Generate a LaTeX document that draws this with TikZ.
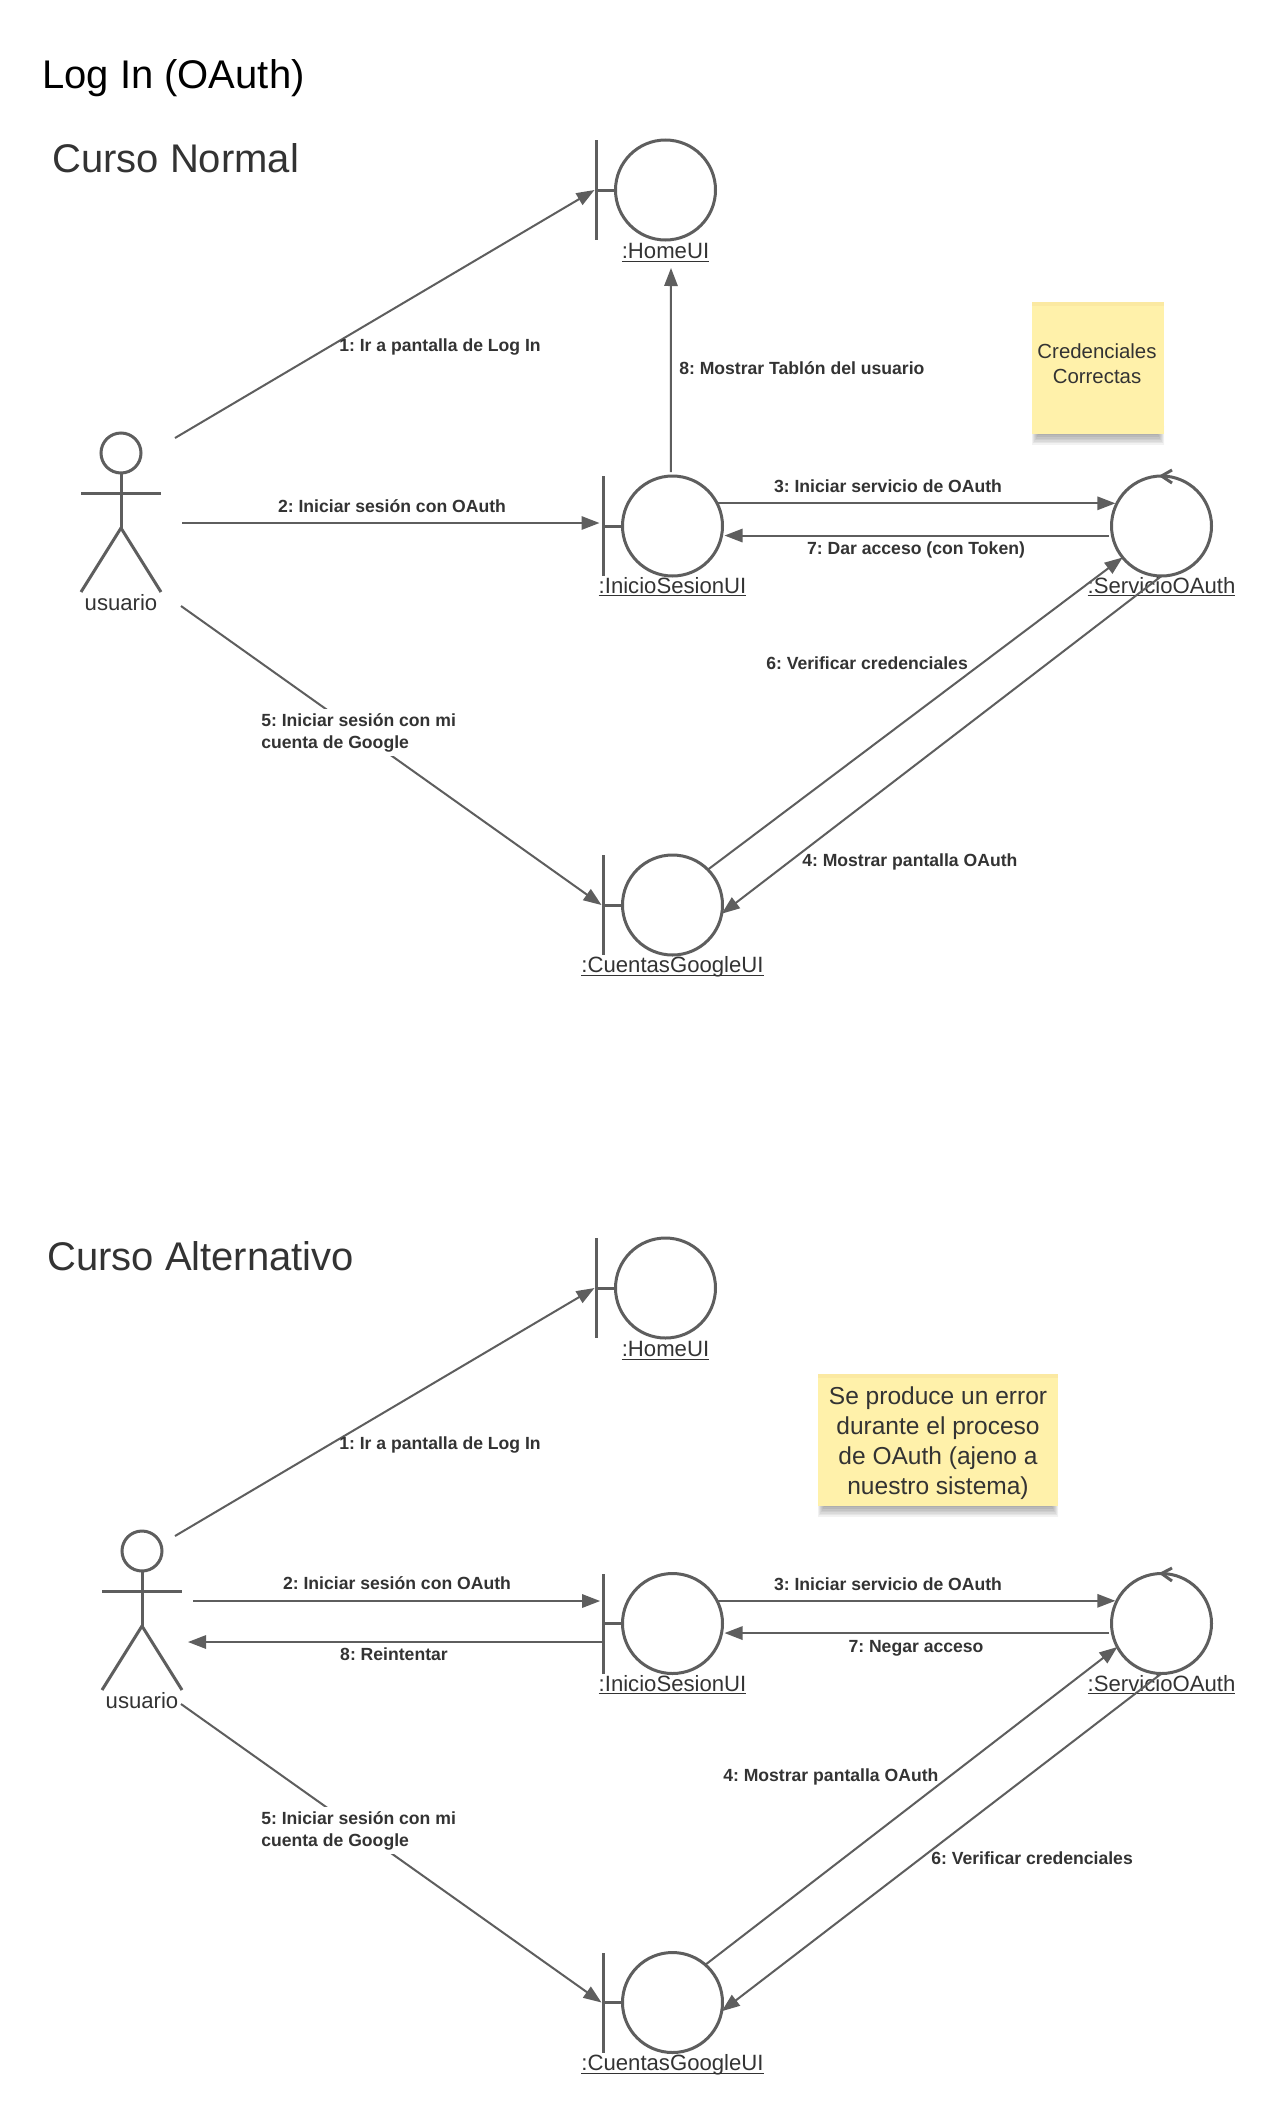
\documentclass[tikz,border=0pt]{standalone}
\usepackage{fontspec}
\setmainfont{Liberation Sans}
\usetikzlibrary{arrows.meta}
\definecolor{ink}{HTML}{5E5E5E}
\definecolor{txt}{HTML}{333333}
\definecolor{sticky}{HTML}{FFF1AA}
\definecolor{stickytop}{HTML}{FBE9A2}
\definecolor{shade}{HTML}{3A3F4A}
\newcommand{\ulbl}[1]{\setbox0\hbox{#1}\rlap{\rule[-2.6pt]{\wd0}{1.1pt}}\box0}
\frenchspacing
\tikzset{
  x=0.75pt,y=-0.75pt,
  ball/.style={circle,draw=ink,line width=2.25pt,fill=white,minimum size=75pt,inner sep=0pt,outer sep=0pt},
  bar/.style={rectangle,fill=ink,draw=none,minimum width=2.25pt,minimum height=75pt,inner sep=0pt,outer sep=0pt},
  objname/.style={anchor=base,inner sep=0pt,text=txt,font=\fontsize{16.6}{20}\selectfont},
  msg/.style={anchor=base,inner sep=0pt,text=txt,font=\fontsize{13.2}{16.5}\selectfont\bfseries},
  stem/.style={draw=ink,line width=2.25pt},
  conn/.style={draw=ink,line width=1.5pt,-{Triangle[length=13.5pt,width=10pt]}},
  actorline/.style={draw=ink,line width=2.25pt},
  head/.style={circle,draw=ink,line width=2.25pt,minimum size=30pt,inner sep=0pt,outer sep=0pt},
  note/.style={rectangle,inner sep=0pt,outer sep=0pt,text=txt,align=center},
  heading/.style={anchor=base west,inner sep=0pt,font=\fontsize{30}{36}\selectfont},
}
\begin{document}
\begin{tikzpicture}
\useasboundingbox (0,0) rectangle (1281,2127);
\fill[white] (0,0) rectangle (1281,2127);

% headings
\node[heading,text=black] (title) at (42,88) {Log In (OAuth)};
\node[heading,text=txt] (normal) at (52,172) {Curso Normal};
\node[heading,text=txt] (alt) at (47,1270) {Curso Alternativo};

% sticky notes: soft shadow, then paper
\foreach \i in {0,1,...,9}{
  \fill[shade,opacity=0.05] (1032+\i*1.0,426) rectangle (1164-\i*1.0,445-\i*1.6);
  \fill[shade,opacity=0.05] (818+\i*1.0,1498) rectangle (1058-\i*1.0,1517-\i*1.6);
}
\node[note,fill=sticky,minimum width=99pt,minimum height=99pt] (n1) at (1098,368) {};
\node[note,fill=sticky,minimum width=180pt,minimum height=99pt] (n2) at (938,1440) {};
\fill[stickytop] (1032,302) rectangle (1164,306);
\fill[stickytop] (818,1374) rectangle (1058,1378);
\node[note,anchor=base,font=\fontsize{15.3}{18.4}\selectfont] (n1t) at (1097,383) {Credenciales\\Correctas};
\node[note,anchor=base,font=\fontsize{18.4}{22.3}\selectfont] (n2t) at (938,1494) {Se produce un error\\durante el proceso\\de OAuth (ajeno a\\nuestro sistema)};

% ---------- Curso Normal objects
\node[ball] (home) at (665.5,190) {};
\node[bar] (homebar) at (596,190) {};
\draw[stem] (homebar.center) -- (home.west);
\node[objname] (homelbl) at (665.5,258.5) {\ulbl{:HomeUI}};

\node[ball] (inicio) at (672.5,526) {};
\node[bar] (iniciobar) at (603,526) {};
\draw[stem] (iniciobar.center) -- (inicio.west);
\node[objname] (iniciolbl) at (672.5,593) {\ulbl{:InicioSesionUI}};

\node[ball] (serv) at (1161.5,526) {};
\draw[actorline] (1172,470) -- (serv.north) -- (1172,483);
\node[objname] (servlbl) at (1161.5,593) {\ulbl{:ServicioOAuth}};

\node[ball] (goog) at (672.5,905) {};
\node[bar] (googbar) at (603,905) {};
\draw[stem] (googbar.center) -- (goog.west);
\node[objname] (googlbl) at (672.5,972.5) {\ulbl{:CuentasGoogleUI}};

% actor
\node[head] (act) at (121,453) {};
\coordinate (acthip) at (121,528);
\draw[actorline] (act.south) -- (acthip);
\draw[actorline] (81,493) -- (161,493);
\draw[actorline] (81,592) -- (acthip) -- (161,592);
\node[objname] (actlbl) at (121,610) {usuario};

% connector free ends
\coordinate (a1s) at (175,438);
\coordinate (a2s) at (182,523);
\coordinate (a5s) at (181,606);
\coordinate (a8e) at (671,268);

% connectors
\draw[conn] (a1s) -- (homebar.west);
\draw[conn,shorten >=1.5pt] (a2s) -- (a2s -| iniciobar.west);
\draw[conn,shorten <=3pt] (inicio.92) -- (a8e);
\draw[conn,shorten >=1.5pt] (inicio.27.4) -- (inicio.27.4 -| serv.152.6);
\draw[conn,shorten <=2.5pt,shorten >=1.5pt] (serv.191.5) -- (serv.191.5 -| inicio.east);
\draw[conn] (goog.45) -- (serv.219);
\draw[conn] (serv.south) -- (goog.-10);
\draw[conn] (a5s) -- (googbar.west);

% messages
\node[msg] (m1) at (440,351) {1: Ir a pantalla de Log In};
\node[msg] (m2) at (392,512) {2: Iniciar sesión con OAuth};
\node[msg,anchor=base west] (m8) at (679,374) {8: Mostrar Tablón del usuario};
\node[msg] (m3) at (888,492) {3: Iniciar servicio de OAuth};
\node[msg] (m7) at (916,554) {7: Dar acceso (con Token)};
\node[msg,anchor=base west] (m6) at (766,669) {6: Verificar credenciales};
\node[msg,anchor=base west] (m4) at (802,866) {4: Mostrar pantalla OAuth};
\node[msg,anchor=base west,align=left,fill=white,inner sep=3pt] (m5) at (257,748) {5: Iniciar sesión con mi\\cuenta de Google};

% ---------- Curso Alternativo objects
\node[ball] (homeB) at (665.5,1288) {};
\node[bar] (homebarB) at (596,1288) {};
\draw[stem] (homebarB.center) -- (homeB.west);
\node[objname] (homelblB) at (665.5,1356.5) {\ulbl{:HomeUI}};

\node[ball] (inicioB) at (672.5,1623.5) {};
\node[bar] (iniciobarB) at (603,1623.5) {};
\draw[stem] (iniciobarB.center) -- (inicioB.west);
\node[objname] (iniciolblB) at (672.5,1691) {\ulbl{:InicioSesionUI}};

\node[ball] (servB) at (1161.5,1623.5) {};
\draw[actorline] (1172,1568) -- (servB.north) -- (1172,1581);
\node[objname] (servlblB) at (1161.5,1691) {\ulbl{:ServicioOAuth}};

\node[ball] (googB) at (672.5,2002.5) {};
\node[bar] (googbarB) at (603,2002.5) {};
\draw[stem] (googbarB.center) -- (googB.west);
\node[objname] (googlblB) at (672.5,2070.5) {\ulbl{:CuentasGoogleUI}};

% actor
\node[head] (actB) at (142,1551) {};
\coordinate (acthipB) at (142,1626);
\draw[actorline] (actB.south) -- (acthipB);
\draw[actorline] (102,1591) -- (182,1591);
\draw[actorline] (102,1690) -- (acthipB) -- (182,1690);
\node[objname] (actlblB) at (142,1708) {usuario};

% connector free ends
\coordinate (b1s) at (175,1536);
\coordinate (b2s) at (193,1601);
\coordinate (b5s) at (181,1704);
\coordinate (b8e) at (188,1642);

% connectors
\draw[conn] (b1s) -- (homebarB.west);
\draw[conn,shorten >=1pt] (b2s) -- (b2s -| iniciobarB.west);
\draw[conn] (b8e -| iniciobarB.center) -- (b8e);
\draw[conn,shorten >=1.5pt] (inicioB.27.4) -- (inicioB.27.4 -| servB.152.6);
\draw[conn,shorten <=2.5pt,shorten >=1.5pt] (servB.191.5) -- (servB.191.5 -| inicioB.east);
\draw[conn] (googB.49) -- (servB.208);
\draw[conn] (servB.south) -- (googB.-10);
\draw[conn] (b5s) -- (googbarB.west);

% messages
\node[msg] (r1) at (440,1449) {1: Ir a pantalla de Log In};
\node[msg] (r2) at (397,1589) {2: Iniciar sesión con OAuth};
\node[msg] (r8) at (394,1660) {8: Reintentar};
\node[msg] (r3) at (888,1590) {3: Iniciar servicio de OAuth};
\node[msg] (r7) at (916,1652) {7: Negar acceso};
\node[msg,anchor=base west] (r4) at (723,1781) {4: Mostrar pantalla OAuth};
\node[msg,anchor=base west] (r6) at (931,1864) {6: Verificar credenciales};
\node[msg,anchor=base west,align=left,fill=white,inner sep=3pt] (r5) at (257,1846) {5: Iniciar sesión con mi\\cuenta de Google};
\end{tikzpicture}
\end{document}
